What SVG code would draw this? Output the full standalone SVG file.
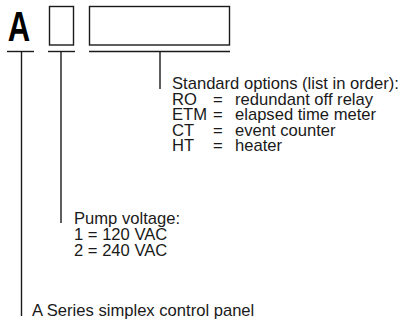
<svg xmlns="http://www.w3.org/2000/svg" width="404" height="320" viewBox="0 0 404 320">
<style>
  .box { fill: none; stroke: #1a1a1a; stroke-width: 1.4; }
  .ln { stroke: #1a1a1a; stroke-width: 1.4; fill: none; }
  .t { font-family: "Liberation Sans", Arial, sans-serif; font-size: 16.6px; fill: #1a1a1a; }
  .big { font-family: "Liberation Sans", Arial, sans-serif; font-size: 42px; font-weight: bold; fill: #000; }
</style>
<rect width="404" height="320" fill="#fff"/>
<g id="code-A">
  <text class="big" transform="translate(19,41) scale(0.74,1)" text-anchor="middle">A</text>
</g>
<g id="box-voltage">
  <rect class="box" x="49.5" y="6.5" width="24" height="38.5"/>
</g>
<g id="box-options">
  <rect class="box" x="89.5" y="6.5" width="140" height="38.5"/>
</g>
<g id="connectors">
  <line class="ln" x1="7" y1="51.5" x2="34" y2="51.5"/>
  <line class="ln" x1="48" y1="51.5" x2="75" y2="51.5"/>
  <line class="ln" x1="89" y1="51.5" x2="230" y2="51.5"/>
  <line class="ln" x1="21.5" y1="51.5" x2="21.5" y2="316"/>
  <line class="ln" x1="61" y1="51.5" x2="61" y2="223"/>
  <line class="ln" x1="160" y1="51.5" x2="160" y2="89"/>
</g>
<g id="label-options">
  <text class="t" x="172" y="89">Standard options (list in order):</text>
  <text class="t" x="172" y="104.5">RO</text>
  <text class="t" x="213" y="104.5">=</text>
  <text class="t" x="235" y="104.5">redundant off relay</text>
  <text class="t" x="172" y="120">ETM</text>
  <text class="t" x="213" y="120">=</text>
  <text class="t" x="235" y="120">elapsed time meter</text>
  <text class="t" x="172" y="135.5">CT</text>
  <text class="t" x="213" y="135.5">=</text>
  <text class="t" x="235" y="135.5">event counter</text>
  <text class="t" x="172" y="151">HT</text>
  <text class="t" x="213" y="151">=</text>
  <text class="t" x="235" y="151">heater</text>
</g>
<g id="label-voltage">
  <text class="t" x="74" y="224">Pump voltage:</text>
  <text class="t" x="74" y="240">1 = 120 VAC</text>
  <text class="t" x="74" y="256">2 = 240 VAC</text>
</g>
<g id="label-series">
  <text class="t" x="32" y="316">A Series simplex control panel</text>
</g>
</svg>
